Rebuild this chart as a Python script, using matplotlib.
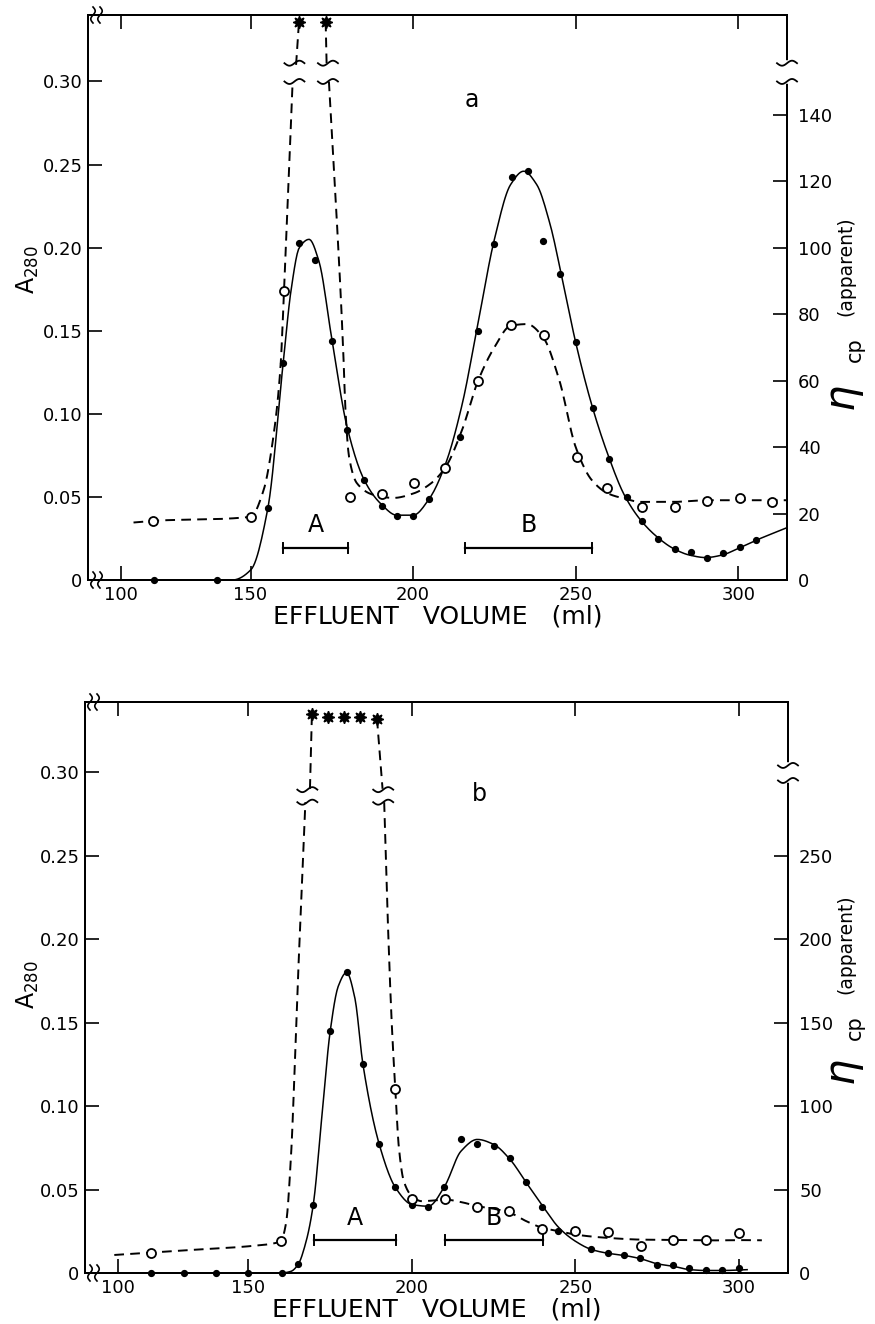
import numpy as np
import matplotlib.pyplot as plt
from matplotlib.lines import Line2D

# ---------------- panel a ----------------
a_dot_x = [113, 137, 155.3, 160.1, 164.9, 169.7, 175.1, 179.7, 184.9, 190.3, 195.1, 200, 204.9,
           214.5, 220, 224.9, 230.3, 235.3, 240, 245.2, 250, 255.2, 260.3, 265.7, 270.5, 275.3,
           280.5, 285.4, 290.3, 295.4, 300.6, 305.4]
a_dot_y = [0, 0, 0.0435, 0.1305, 0.2028, 0.1924, 0.1436, 0.090, 0.0602, 0.0446, 0.0388, 0.0388, 0.0486,
           0.086, 0.150, 0.2024, 0.2424, 0.246, 0.2042, 0.1841, 0.143, 0.1036, 0.0727, 0.0498, 0.0357, 0.0249,
           0.0185, 0.0167, 0.0131, 0.0165, 0.0201, 0.0241]
a_open_x = [112.4, 150, 160.3, 180.5, 190.5, 200.3, 209.7, 220, 230.2, 240.2, 250.5, 259.7, 270.5,
            280.5, 290.3, 300.6, 310.5]
a_open_y = [17.8, 19, 87, 25, 25.8, 29.3, 33.7, 59.8, 76.7, 73.7, 37, 27.8, 21.9, 22, 23.9, 24.6, 23.5]
a_top_x = [164.9, 173.1]
a_top_y = [168, 168]

# hand-drawn curves
a_fit_x = [105, 143, 150, 155.3, 160, 162.5, 165, 168, 171, 175, 179.7, 185, 190, 195, 200, 205, 210,
           215, 220, 225, 230, 234, 238, 242, 246, 250, 255, 260, 265, 270, 275, 280, 285, 290, 295,
           300, 305, 315]
a_fit_y = [0, 0, 0.006, 0.043, 0.13, 0.175, 0.2, 0.205, 0.192, 0.145, 0.092, 0.06, 0.046, 0.039, 0.039,
           0.049, 0.07, 0.105, 0.155, 0.205, 0.238, 0.246, 0.238, 0.215, 0.18, 0.143, 0.105, 0.075,
           0.051, 0.036, 0.026, 0.019, 0.015, 0.0135, 0.015, 0.019, 0.0235, 0.0315]
a_visc_lo_x = [105, 112.4, 150, 154, 157, 159.2, 160.3, 162.9]
a_visc_lo_y = [17.3, 17.8, 19, 27, 43, 64, 87, 149]
a_visc_up1_x = [164, 164.9]
a_visc_up1_y = [155, 168]
a_visc_up2_x = [173.1, 173.4]
a_visc_up2_y = [168, 155]
a_visc_x = [174.1, 177.7, 178.5, 179.2, 180.3, 182.8, 187.9, 194, 200, 205.4, 210, 215, 220, 225, 230,
            235, 240, 245, 250, 255, 260, 265, 270, 280, 290, 300, 315]
a_visc_y = [150, 86.3, 69, 51, 37, 29, 25.6, 24.7, 26, 29, 34, 45, 60, 70, 76.5, 77, 73, 60, 40, 30,
            26, 24.5, 23.5, 23.5, 24, 24, 24]
a_bars = {'A': (160, 180), 'B': (216, 255)}

# ---------------- panel b ----------------
b_dot_x = [112.7, 125.2, 137.6, 150, 160.1, 165.2, 169.8, 175, 180, 185, 190, 194.9, 200, 205, 209.8,
           215, 220, 225, 230, 234.8, 239.9, 244.8, 254.7, 260, 264.9, 269.7, 274.9, 279.9, 284.8,
           289.9, 294.8, 299.9]
b_dot_y = [0, 0, 0, 0, 0, 0.0052, 0.0408, 0.145, 0.180, 0.125, 0.077, 0.0514, 0.0408, 0.0394, 0.0514,
           0.080, 0.077, 0.076, 0.0688, 0.0548, 0.0394, 0.0252, 0.0142, 0.0118, 0.0108, 0.0088, 0.0048,
           0.0048, 0.0028, 0.0018, 0.0018, 0.0028]
b_open_x = [112.7, 159.9, 194.9, 200, 210, 219.8, 229.7, 239.9, 249.9, 259.8, 270, 279.9, 289.9, 300]
b_open_y = [12.2, 19.2, 110, 44.2, 44.2, 39.8, 37.4, 26.4, 25.2, 24.8, 16.2, 19.8, 19.8, 23.8]
b_top_x = [169.4, 174.2, 179.3, 184.1, 189.3]
b_top_y = [335, 333, 333, 333, 332]

b_fit_x = [105, 160, 163, 165.2, 167.5, 169.8, 172.5, 175, 177.5, 180, 182.5, 185, 190, 195, 200, 205,
           210, 215, 220, 225, 230, 235, 240, 245, 250, 255, 260, 265, 270, 275, 280, 285, 290, 295, 302.5]
b_fit_y = [0, 0, 0.001, 0.0052, 0.018, 0.0408, 0.095, 0.145, 0.172, 0.18, 0.165, 0.125, 0.077, 0.051,
           0.041, 0.04, 0.052, 0.073, 0.08, 0.077, 0.068, 0.054, 0.04, 0.027, 0.019, 0.014, 0.0118,
           0.0105, 0.0085, 0.0055, 0.004, 0.002, 0.0015, 0.0015, 0.002]
b_visc_lo_x = [98.7, 112.7, 130, 150, 157, 159.9, 161.5, 163, 165, 167.4]
b_visc_lo_y = [10.8, 12.2, 14, 16, 17.5, 19.2, 30, 70, 170, 282]
b_visc_up1_x = [168.8, 169.4]
b_visc_up1_y = [290, 335]
b_visc_up2_x = [189.3, 191]
b_visc_up2_y = [332, 290]
b_visc_x = [191.5, 192.8, 193.8, 194.9, 196, 197.5, 200, 203, 207, 210, 215, 220, 225, 230, 235, 240,
            245, 250, 260, 270, 280, 290, 300, 307]
b_visc_y = [282, 200, 150, 110, 75, 55, 46, 43, 43.5, 44, 42.5, 40, 38.5, 36, 31, 27, 25, 23, 21, 20,
            19.8, 19.5, 19.7, 19.6]
b_bars = {'A': (170, 195), 'B': (210, 240)}

x_ticks = [100, 150, 200, 250, 300]
a280_ticks = [0, 0.05, 0.10, 0.15, 0.20, 0.25, 0.30]
a280_labels = ['0', '0.05', '0.10', '0.15', '0.20', '0.25', '0.30']
a_visc_ticks = [0, 20, 40, 60, 80, 100, 120, 140]
b_visc_ticks = [0, 50, 100, 150, 200, 250]


def pchip(x, y, n=500):
    x = np.asarray(x, float)
    y = np.asarray(y, float)
    h = np.diff(x)
    d = np.diff(y) / h
    m = np.zeros_like(y)
    m[0], m[-1] = d[0], d[-1]
    for k in range(1, len(x) - 1):
        if d[k - 1] * d[k] > 0:
            w1 = 2 * h[k] + h[k - 1]
            w2 = h[k] + 2 * h[k - 1]
            m[k] = (w1 + w2) / (w1 / d[k - 1] + w2 / d[k])
    xs = np.linspace(x[0], x[-1], n)
    i = np.clip(np.searchsorted(x, xs) - 1, 0, len(x) - 2)
    t = (xs - x[i]) / h[i]
    h00 = 2 * t**3 - 3 * t**2 + 1
    h10 = t**3 - 2 * t**2 + t
    h01 = -2 * t**3 + 3 * t**2
    h11 = t**3 - t**2
    ys = h00 * y[i] + h10 * h[i] * m[i] + h01 * y[i + 1] + h11 * h[i] * m[i + 1]
    return xs, ys


# the drawn axis is squeezed below 150 ml
def fwd(x):
    x = np.asarray(x, float)
    return np.where(x < 150, 150 + (x - 150) * 0.8, x)


def inv(t):
    t = np.asarray(t, float)
    return np.where(t < 150, 150 + (t - 150) / 0.8, t)


fig = plt.figure(figsize=(8.75, 13.24), dpi=100)
DASH = (0, (5, 3.2))


def squiggle(px, py, w=11, amp=2.5, vertical=False, lw=1.3):
    s = np.linspace(-1, 1, 40)
    if vertical:
        xs, ys = px + amp * np.sin(np.pi * s), py + w * s
    else:
        xs, ys = px + w * s, py + amp * np.sin(np.pi * s)
    pts = fig.transFigure.inverted().transform(np.column_stack([xs, ys]))
    fig.add_artist(Line2D(pts[:, 0], pts[:, 1], color='k', lw=lw, transform=fig.transFigure))


def panel(rect, ylim_l, ylim_r, rticks, dots, opens, tops, fit, visc_parts, bars, letter, letter_pos,
          breaks, spine_break):
    ax = fig.add_axes(rect)
    ax.set_xscale('function', functions=(fwd, inv))
    ax.set_xlim(87.5, 315)
    ax.set_ylim(*ylim_l)
    axr = ax.twinx()
    axr.set_ylim(*ylim_r)
    for a in (ax, axr):
        for s in a.spines.values():
            s.set_linewidth(1.4)
    ax.set_xticks(x_ticks)
    ax.set_xticklabels([str(v) for v in x_ticks])
    ax.set_yticks(a280_ticks)
    ax.set_yticklabels(a280_labels)
    ax.tick_params(axis='both', direction='in', length=10, width=1.2, labelsize=13, top=True, pad=4)
    ax.xaxis.set_minor_locator(plt.NullLocator())
    axr.set_yticks(rticks)
    axr.tick_params(axis='y', direction='in', length=10, width=1.2, labelsize=13, pad=8)
    ax.set_xlabel('EFFLUENT   VOLUME   (ml)', fontsize=18, labelpad=1)

    # A280 trace
    fx, fy = pchip(*fit)
    ax.plot(fx, fy, color='k', lw=1.1, zorder=3)
    ax.plot(dots[0], dots[1], 'o', color='k', ms=4.2, zorder=4, clip_on=False)

    # viscosity trace (right axis)
    for px_, py_ in visc_parts:
        if len(px_) > 2:
            vx, vy = pchip(px_, py_)
        else:
            vx, vy = px_, py_
        axr.plot(vx, vy, color='k', lw=1.4, linestyle=DASH, zorder=3, clip_on=False)
    axr.plot(opens[0], opens[1], 'o', mfc='white', mec='k', mew=1.3, ms=6.5, zorder=5)
    axr.plot(tops[0], tops[1], marker=(8, 1, 0), color='k', ls='none', ms=9, zorder=5, clip_on=False)

    # fraction bars
    for name, (x0, x1) in bars.items():
        ax.plot([x0, x1], [0.0195, 0.0195], color='k', lw=1.6)
        for xe in (x0, x1):
            ax.plot([xe, xe], [0.0165, 0.0225], color='k', lw=1.4)
        ax.text((x0 + x1) / 2, 0.026, name, ha='center', va='bottom', fontsize=17)

    ax.text(letter_pos[0], letter_pos[1], letter, ha='center', va='center', fontsize=17)

    # break marks on the dashed trace
    for bx, by_lo, by_hi in breaks:
        fp = axr.transData.transform((bx, by_lo))
        squiggle(fp[0], fp[1], w=10, amp=2.5)
        fp2 = axr.transData.transform((bx, by_hi))
        squiggle(fp2[0], fp2[1], w=10, amp=2.5)

    # break in the right spine
    lo, hi = spine_break
    p_lo = axr.transData.transform((315, lo))
    p_hi = axr.transData.transform((315, hi))
    gap = fig.transFigure.inverted().transform([p_lo, p_hi])
    fig.add_artist(Line2D(gap[:, 0], gap[:, 1], color='white', lw=4, transform=fig.transFigure))
    squiggle(p_lo[0], p_lo[1], w=10, amp=2.5)
    squiggle(p_hi[0], p_hi[1], w=10, amp=2.5)

    # axis-break marks at the left corners
    bl = ax.transAxes.transform((0, 0))
    tl = ax.transAxes.transform((0, 1))
    for corner in (bl, tl):
        for dx in (5, 12):
            squiggle(corner[0] + dx, corner[1], w=8, amp=2.2, vertical=True, lw=1.2)
    return ax, axr


axa, axa_r = panel([88 / 875, 1 - 580 / 1324, (787 - 88) / 875, (580 - 15) / 1324],
                   (0, 0.34), (0, 170), a_visc_ticks,
                   (a_dot_x, a_dot_y), (a_open_x, a_open_y), (a_top_x, a_top_y),
                   (a_fit_x, a_fit_y),
                   [(a_visc_lo_x, a_visc_lo_y), (a_visc_up1_x, a_visc_up1_y),
                    (a_visc_up2_x, a_visc_up2_y), (a_visc_x, a_visc_y)],
                   a_bars, 'a', (218, 0.289),
                   [(163.5, 150, 155.5), (173.8, 150, 155.5)], (150, 155.5))

axb, axb_r = panel([85 / 875, 1 - 1273 / 1324, (788 - 85) / 875, (1273 - 702) / 1324],
                   (0, 0.342), (0, 342), b_visc_ticks,
                   (b_dot_x, b_dot_y), (b_open_x, b_open_y), (b_top_x, b_top_y),
                   (b_fit_x, b_fit_y),
                   [(b_visc_lo_x, b_visc_lo_y), (b_visc_up1_x, b_visc_up1_y),
                    (b_visc_up2_x, b_visc_up2_y), (b_visc_x, b_visc_y)],
                   b_bars, 'b', (220.5, 0.287),
                   [(168, 282, 289.5), (191.2, 282, 289.5)], (295, 304))

# left axis titles
for yc in (270, 985):
    fig.text(28 / 875, 1 - yc / 1324, r'$\mathregular{A_{280}}$', rotation=90, fontsize=17,
             ha='center', va='center')

# right axis titles: big eta, subscript cp, then (apparent)
for y_eta, y_cp, y_app in ((398, 350, 266), (1072, 1028, 944)):
    fig.text(845 / 875, 1 - y_eta / 1324, r'$\eta$', rotation=90, fontsize=30, ha='center', va='center')
    fig.text(855 / 875, 1 - y_cp / 1324, 'cp', rotation=90, fontsize=15, ha='center', va='center')
    fig.text(846 / 875, 1 - y_app / 1324, '(apparent)', rotation=90, fontsize=13.5, ha='center',
             va='center')

fig.savefig('out.png', dpi=100)
